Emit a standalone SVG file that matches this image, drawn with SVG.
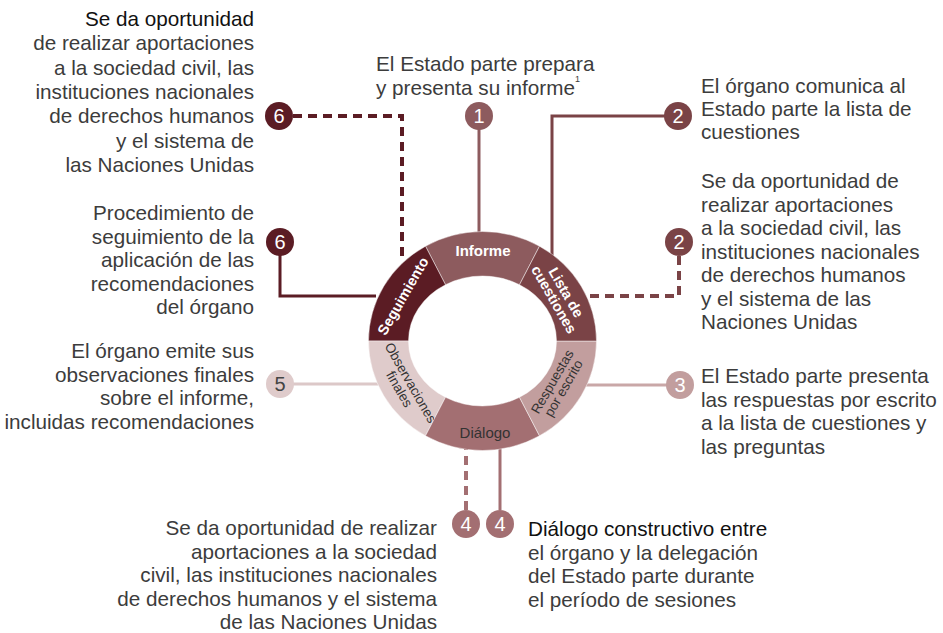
<svg xmlns="http://www.w3.org/2000/svg" width="943" height="633" viewBox="0 0 943 633">
<style>
.t{font-family:"Liberation Sans",Arial,sans-serif;font-size:20.7px;fill:#3c3c3c}
.h{fill:#111}
.r{text-anchor:end}
.num{font-family:"Liberation Sans",Arial,sans-serif;font-size:20px;fill:#fff;text-anchor:middle}
.lw{font-family:"Liberation Sans",Arial,sans-serif;font-size:14.5px;font-weight:bold;fill:#fff;text-anchor:middle}
.ld{font-family:"Liberation Sans",Arial,sans-serif;font-size:13.5px;fill:#333;text-anchor:middle}
.seg{stroke:#fff;stroke-opacity:.45;stroke-width:1}
.c{fill:none;stroke-width:3}
.d{fill:none;stroke-width:4;stroke-dasharray:9 6}
</style>
<rect width="943" height="633" fill="#fff"/>
<g id="connectors">
<line class="c" x1="479" y1="128" x2="479" y2="236" stroke="#8d5b5e"/>
<polyline class="c" points="665,116 552,116 552,258" stroke="#7a4346"/>
<polyline class="d" points="679,256 679,296 584,296" stroke="#7a4346"/>
<line class="c" x1="667" y1="385" x2="584" y2="385" stroke="#c9a7a7"/>
<line class="d" x1="466" y1="510" x2="466" y2="447" stroke="#a36f72"/>
<line class="c" x1="500" y1="510" x2="500" y2="447" stroke="#a36f72"/>
<line class="c" x1="293" y1="384" x2="380" y2="384" stroke="#dcc8c8"/>
<polyline class="d" points="293,116 402,116 402,258" stroke="#5b1c24"/>
<polyline class="c" points="280,255 280,296 376,296" stroke="#5b1c24"/>
</g>
<g id="ring">
<g id="seg-informe"><path class="seg" fill="#8d5b5e" d="M539.5,246.17 A114,109.5 0 0 0 425.5,246.17 L445.5,284.71 A74,65 0 0 1 519.5,284.71 Z"/>
<text class="lw" x="483" y="256" style="font-size:15px">Informe</text></g>
<g id="seg-seguimiento"><path class="seg" fill="#5b1c24" d="M425.5,246.17 A114,109.5 0 0 0 368.5,341 L408.5,341 A74,65 0 0 1 445.5,284.71 Z"/>
<text class="lw" transform="translate(403,296) rotate(-60)" y="5">Seguimiento</text></g>
<g id="seg-observaciones"><path class="seg" fill="#dfcbcb" d="M368.5,341 A114,109.5 0 0 0 425.5,435.83 L445.5,397.29 A74,65 0 0 1 408.5,341 Z"/>
<g transform="translate(405,386) rotate(60)"><text class="ld" y="-2">Observaciones</text><text class="ld" y="11">finales</text></g></g>
<g id="seg-dialogo"><path class="seg" fill="#a36f72" d="M425.5,435.83 A114,109.5 0 0 0 539.5,435.83 L519.5,397.29 A74,65 0 0 1 445.5,397.29 Z"/>
<text class="ld" x="485" y="438" style="font-size:15px">Diálogo</text></g>
<g id="seg-respuestas"><path class="seg" fill="#c29e9e" d="M539.5,435.83 A114,109.5 0 0 0 596.5,341 L556.5,341 A74,65 0 0 1 519.5,397.29 Z"/>
<g transform="translate(558,385) rotate(-60)"><text class="ld" y="-2">Respuestas</text><text class="ld" y="11">por escrito</text></g></g>
<g id="seg-lista"><path class="seg" fill="#7a4346" d="M596.5,341 A114,109.5 0 0 0 539.5,246.17 L519.5,284.71 A74,65 0 0 1 556.5,341 Z"/>
<g transform="translate(560,296) rotate(60)"><text class="lw" y="-2">Lista de</text><text class="lw" y="12">cuestiones</text></g></g>
</g>
<g id="node-1">
<circle cx="479" cy="116" r="14" fill="#8d5b5e"/><text class="num" x="479" y="123">1</text>
<text class="t" x="376" y="71">El Estado parte prepara</text>
<text class="t" x="376" y="95">y presenta su informe</text>
<text class="t" x="575" y="82" style="font-size:9px">1</text>
</g>
<g id="node-2a">
<circle cx="678" cy="116" r="14" fill="#7a4346"/><text class="num" x="678" y="123">2</text>
<text class="t" x="701" y="93">El órgano comunica al</text>
<text class="t" x="701" y="116">Estado parte la lista de</text>
<text class="t" x="701" y="139">cuestiones</text>
</g>
<g id="node-2b">
<circle cx="679" cy="242" r="14" fill="#7a4346"/><text class="num" x="679" y="249">2</text>
<text class="t" x="701" y="188">Se da oportunidad de</text>
<text class="t" x="701" y="211.5">realizar aportaciones</text>
<text class="t" x="701" y="235">a la sociedad civil, las</text>
<text class="t" x="701" y="258.5">instituciones nacionales</text>
<text class="t" x="701" y="282">de derechos humanos</text>
<text class="t" x="701" y="305.5">y el sistema de las</text>
<text class="t" x="701" y="329">Naciones Unidas</text>
</g>
<g id="node-3">
<circle cx="680" cy="385" r="14" fill="#c29e9e"/><text class="num" x="680" y="392">3</text>
<text class="t" x="701" y="383">El Estado parte presenta</text>
<text class="t" x="701" y="406.5">las respuestas por escrito</text>
<text class="t" x="701" y="430">a la lista de cuestiones y</text>
<text class="t" x="701" y="453.5">las preguntas</text>
</g>
<g id="node-4a">
<circle cx="466" cy="524" r="14" fill="#a36f72"/><text class="num" x="466" y="531">4</text>
<text class="t r" x="437" y="535">Se da oportunidad de realizar</text>
<text class="t r" x="437" y="558.5">aportaciones a la sociedad</text>
<text class="t r" x="437" y="582">civil, las instituciones nacionales</text>
<text class="t r" x="437" y="605.5">de derechos humanos y el sistema</text>
<text class="t r" x="437" y="629">de las Naciones Unidas</text>
</g>
<g id="node-4b">
<circle cx="500" cy="524" r="14" fill="#a36f72"/><text class="num" x="500" y="531">4</text>
<text class="t h" x="528" y="536">Diálogo constructivo entre</text>
<text class="t" x="528" y="559.5">el órgano y la delegación</text>
<text class="t" x="528" y="583">del Estado parte durante</text>
<text class="t" x="528" y="606.5">el período de sesiones</text>
</g>
<g id="node-5">
<circle cx="280" cy="384" r="14" fill="#dfcbcb"/><text class="num" x="280" y="391" style="fill:#444">5</text>
<text class="t r" x="254" y="358">El órgano emite sus</text>
<text class="t r" x="254" y="381.5">observaciones finales</text>
<text class="t r" x="254" y="405">sobre el informe,</text>
<text class="t r" x="254" y="428.5">incluidas recomendaciones</text>
</g>
<g id="node-6b">
<circle cx="280" cy="242" r="14" fill="#5b1c24"/><text class="num" x="280" y="249">6</text>
<text class="t r" x="254" y="220">Procedimiento de</text>
<text class="t r" x="254" y="243.5">seguimiento de la</text>
<text class="t r" x="254" y="267">aplicación de las</text>
<text class="t r" x="254" y="290.5">recomendaciones</text>
<text class="t r" x="254" y="314">del órgano</text>
</g>
<g id="node-6a">
<circle cx="279" cy="116" r="14" fill="#5b1c24"/><text class="num" x="279" y="123">6</text>
<text class="t r h" x="254" y="26">Se da oportunidad</text>
<text class="t r" x="254" y="50">de realizar aportaciones</text>
<text class="t r" x="254" y="74.5">a la sociedad civil, las</text>
<text class="t r" x="254" y="99">instituciones nacionales</text>
<text class="t r" x="254" y="123">de derechos humanos</text>
<text class="t r" x="254" y="147.5">y el sistema de</text>
<text class="t r" x="254" y="172">las Naciones Unidas</text>
</g>
</svg>
